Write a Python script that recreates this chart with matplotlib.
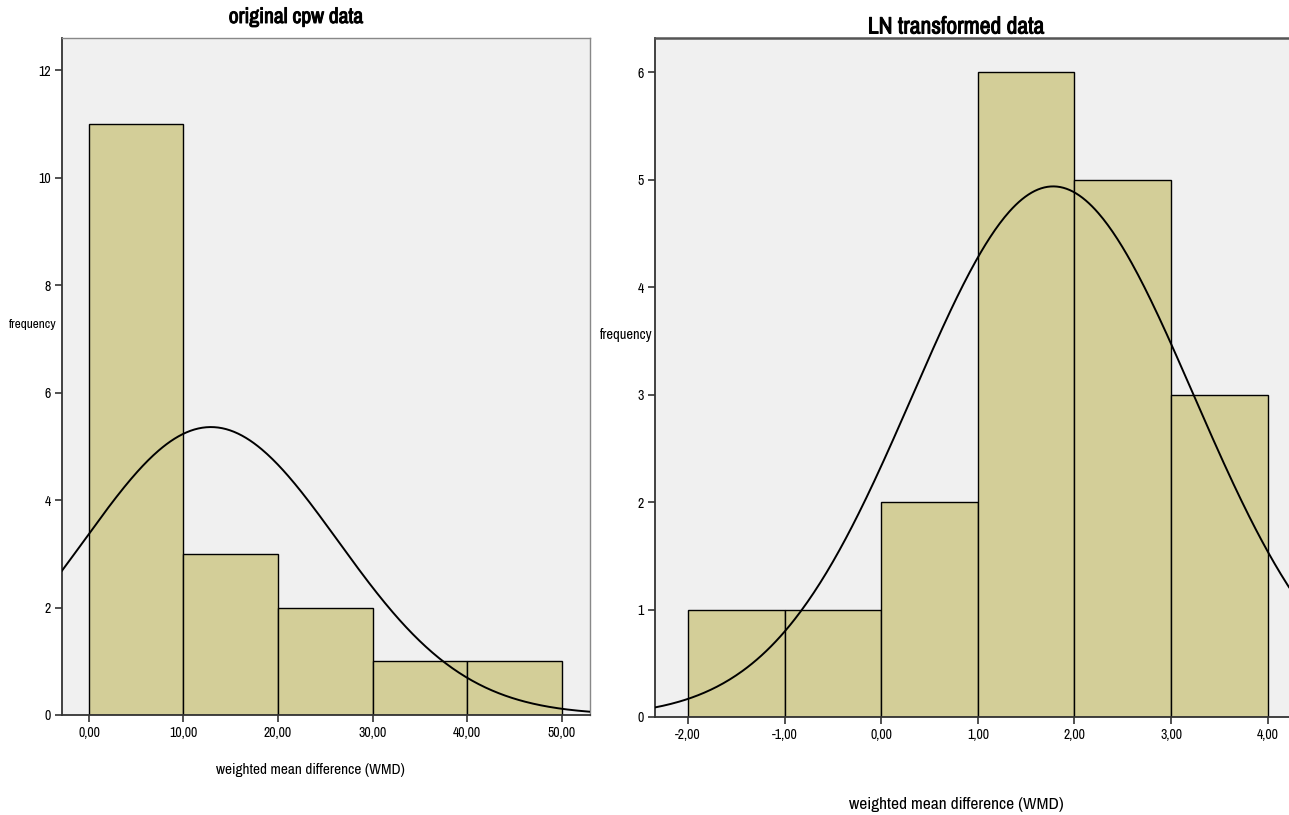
import numpy as np
import matplotlib.pyplot as plt
import matplotlib.patheffects as pe
from matplotlib import font_manager

# histogram data (bin edges + counts)
orig_edges = [0, 10, 20, 30, 40, 50]
orig_counts = [11, 3, 2, 1, 1]
orig_mean, orig_sd = 12.9, 13.4

ln_edges = [-2, -1, 0, 1, 2, 3, 4]
ln_counts = [1, 1, 2, 6, 5, 3]
ln_mean, ln_sd = 1.78, 1.454

orig_ticks = [0, 10, 20, 30, 40, 50]
orig_yticks = [0, 2, 4, 6, 8, 10, 12]
ln_ticks = [-2, -1, 0, 1, 2, 3, 4]
ln_yticks = [0, 1, 2, 3, 4, 5, 6]

# narrow font if there is one (SPSS uses Arial Narrow-ish text)
fonts = font_manager.fontManager.ttflist
narrow = [f.name for f in fonts if 'Narrow' in f.name or 'Condensed' in f.name]
has_cond = any(f.name == 'DejaVu Sans' and f.stretch in ('condensed', 'semi-condensed') for f in fonts)
if narrow:
    plt.rcParams['font.family'] = [narrow[0], 'DejaVu Sans']
elif has_cond:
    plt.rcParams['font.family'] = ['DejaVu Sans']
    plt.rcParams['font.stretch'] = 'condensed'
else:
    plt.rcParams['font.family'] = ['Liberation Sans', 'DejaVu Sans']

bar_color = '#d3ce98'
bg = '#f0f0f0'
bold = [pe.withStroke(linewidth=0.7, foreground='black')]


def comma(v):
    return f"{v:.2f}".replace('.', ',')


def hist_panel(ax, edges, counts, mean, sd, xlim, ylim, xticks, yticks):
    ax.set_facecolor(bg)
    widths = np.diff(edges)
    ax.bar(edges[:-1], counts, width=widths, align='edge', color=bar_color,
           edgecolor='black', linewidth=1.0, zorder=2)
    # SPSS style normal curve
    n = sum(counts)
    bw = widths[0]
    xs = np.linspace(xlim[0], xlim[1], 400)
    ys = n * bw / (sd * np.sqrt(2 * np.pi)) * np.exp(-0.5 * ((xs - mean) / sd) ** 2)
    ax.plot(xs, ys, color='black', linewidth=1.4, zorder=3)
    ax.set_xlim(xlim)
    ax.set_ylim(ylim)
    ax.set_xticks(xticks)
    ax.set_xticklabels([comma(t) for t in xticks])
    ax.set_yticks(yticks)
    ax.tick_params(axis='both', direction='out', length=5, width=1.2,
                   labelsize=10, color='#333333', pad=3)
    for s in ['top', 'right']:
        ax.spines[s].set_color('#888888')
        ax.spines[s].set_linewidth(1.0)
    for s in ['left', 'bottom']:
        ax.spines[s].set_color('#333333')
        ax.spines[s].set_linewidth(1.3)


fig = plt.figure(figsize=(12.89, 8.15), dpi=100)
W, H = 1289, 815

ax1 = fig.add_axes([62 / W, 1 - 715 / H, (590 - 62) / W, (715 - 38) / H])
hist_panel(ax1, orig_edges, orig_counts, orig_mean, orig_sd,
           (-2.85, 53.0), (0, 12.6), orig_ticks, orig_yticks)
fig.text(296 / W, 1 - 17 / H, 'original cpw data', fontsize=15.5,
         ha='center', va='center', path_effects=bold)
fig.text(33 / W, 1 - 325 / H, 'frequency', fontsize=9.5, ha='center', va='center')
fig.text(310 / W, 1 - 770 / H, 'weighted mean difference (WMD)', fontsize=11,
         ha='center', va='center')

ax2 = fig.add_axes([655 / W, 1 - 717 / H, (W - 655) / W, (717 - 38) / H])
hist_panel(ax2, ln_edges, ln_counts, ln_mean, ln_sd,
           (-2.34, 4.22), (0, 6.32), ln_ticks, ln_yticks)
ax2.spines['right'].set_visible(False)
ax2.spines['top'].set_color('#555555')
ax2.spines['top'].set_linewidth(1.8)
fig.text(956 / W, 1 - 27 / H, 'LN transformed data', fontsize=17,
         ha='center', va='center', path_effects=bold)
fig.text(626 / W, 1 - 335 / H, 'frequency', fontsize=10.5, ha='center', va='center')
fig.text(956 / W, 1 - 805 / H, 'weighted mean difference (WMD)', fontsize=12.5,
         ha='center', va='center')

fig.savefig('out.png', dpi=100, facecolor='white')
